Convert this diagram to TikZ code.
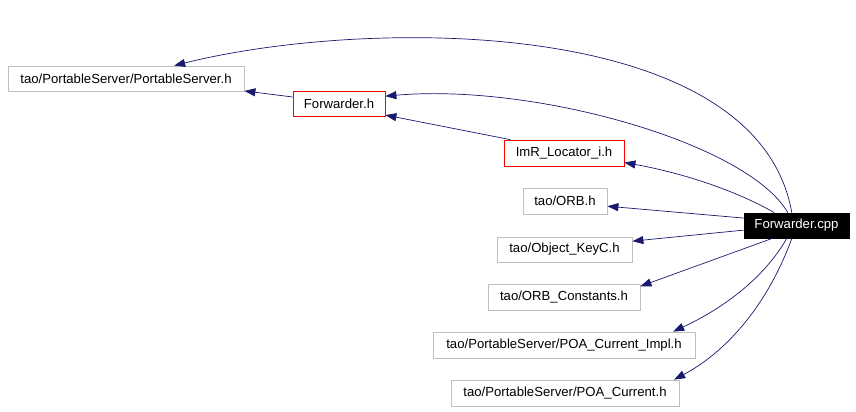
\documentclass[tikz,border=0pt]{standalone}
\usepackage{fontspec}
\setmainfont{Liberation Sans}
\usetikzlibrary{arrows.meta}
\definecolor{edgeblue}{RGB}{25,25,112}
\definecolor{boxgray}{RGB}{191,191,191}
\tikzset{
    filebox/.style={draw=boxgray,line width=0.8pt,minimum height=25bp,inner sep=0pt,font=\fontsize{13.2}{15}\selectfont},
    redbox/.style={filebox,draw=red},
    mainbox/.style={filebox,draw=black,fill=black,text=white},
    dep/.style={draw=edgeblue,line width=0.7pt,-{Triangle[length=11bp,width=8bp]}},
  }
\begin{document}
\begin{tikzpicture}[x=1bp,y=1bp]
			          %cadre de la figure
			          \useasboundingbox (0,0) rectangle (856,411);
			          %fichiers
			          \node[filebox,minimum width=236bp] (ps) at (126,332.5) {tao/PortableServer/PortableServer.h};
			          \node[redbox,minimum width=92bp] (fwd) at (339,307.5) {Forwarder.h};
			          \node[redbox,minimum width=120bp,minimum height=26bp] (imr) at (564,258) {ImR\_Locator\_i.h};
			          \node[filebox,minimum width=84bp,minimum height=26bp] (orb) at (565,210) {tao/ORB.h};
			          \node[mainbox,minimum width=105bp] (cpp) at (796.5,185.5) {Forwarder.cpp};
			          \node[filebox,minimum width=135bp] (keyc) at (564.5,161.5) {tao/Object\_KeyC.h};
			          \node[filebox,minimum width=152bp,minimum height=26bp] (orbconst) at (564,114) {tao/ORB\_Constants.h};
			          \node[filebox,minimum width=262bp,minimum height=26bp] (poaimpl) at (564,66) {tao/PortableServer/POA\_Current\_Impl.h};
			          \node[filebox,minimum width=228bp,minimum height=26bp] (poa) at (565,18) {tao/PortableServer/POA\_Current.h};
			          %dependances
			          \draw[dep] (cpp.110) .. controls +(100:200) and +(14:200) .. (ps.15);
			          \draw[dep] (cpp.124) .. controls +(120:80) and +(5:150) .. (fwd.9);
			          \draw[dep] (fwd.172) -- (ps.-6);
			          \draw[dep] (imr.166) -- (fwd.-14);
			          \draw[dep] (cpp.150) .. controls +(150:50) and +(-10:50) .. (imr.-9);
			          \draw[dep] (cpp.172) -- (orb.-7);
			          \draw[dep] (cpp.185) -- (keyc.7);
			          \draw[dep] (cpp.208) -- (orbconst.8);
			          \draw[dep] (cpp.233) .. controls +(240:50) and +(25:50) .. (poaimpl.7);
			          \draw[dep] (cpp.250) .. controls +(250:70) and +(28:60) .. (poa.7);
			          \end{tikzpicture}
\end{document}
